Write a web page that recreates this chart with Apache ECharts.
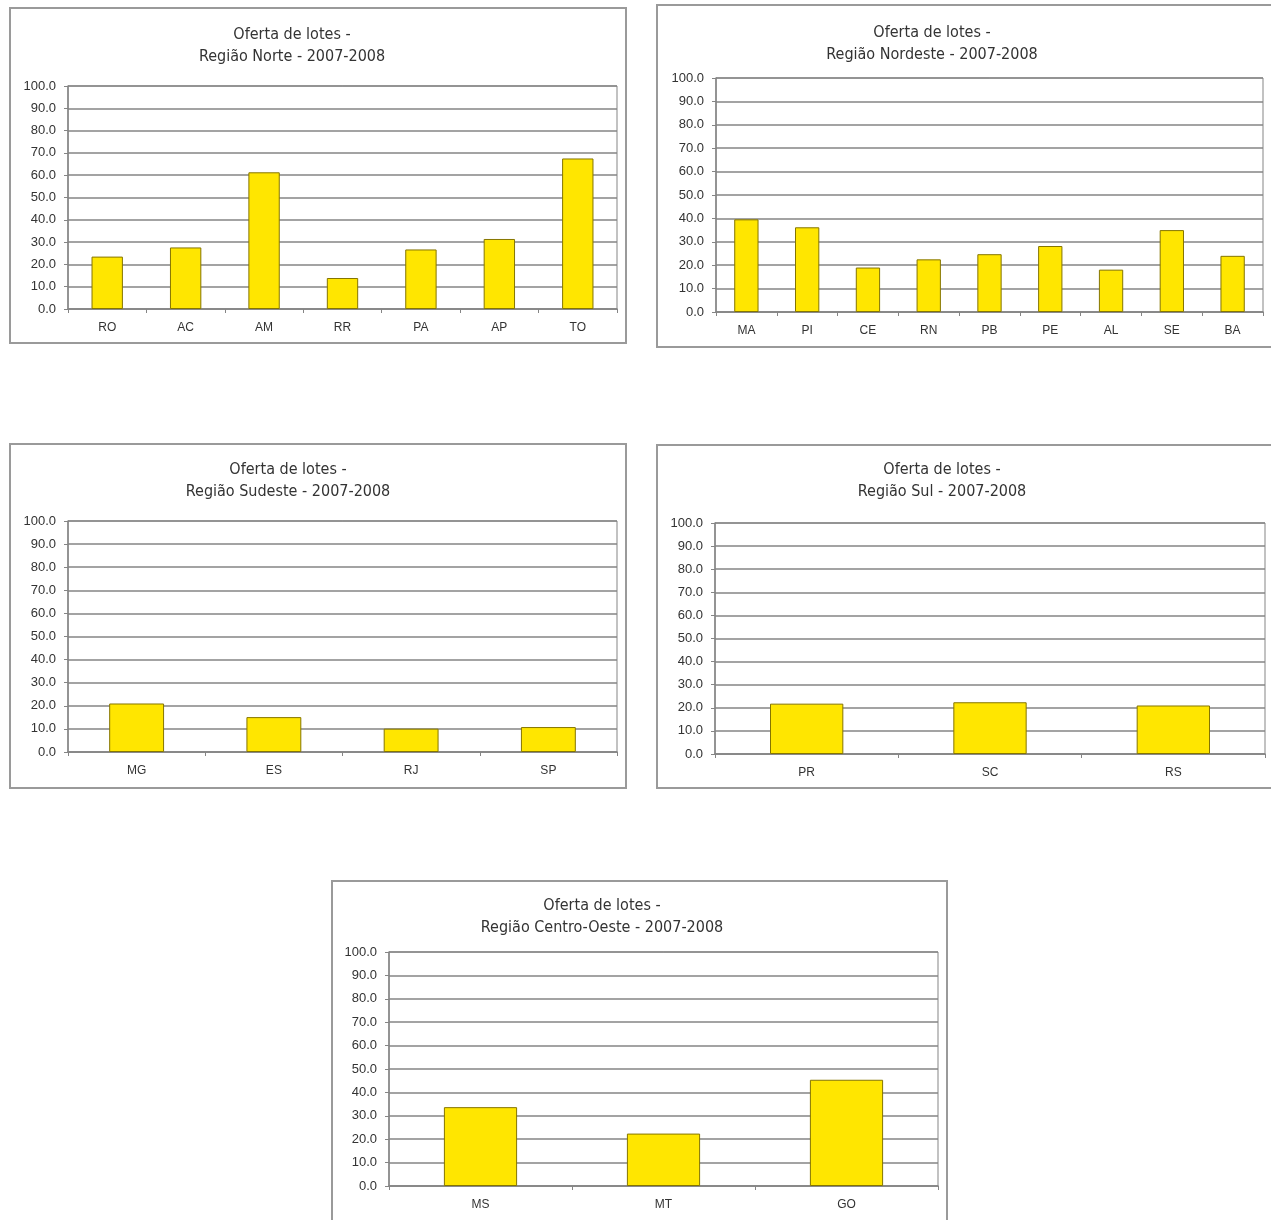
<!DOCTYPE html>
<html>
<head>
<meta charset="utf-8">
<script src="https://cdn.jsdelivr.net/npm/echarts@6/dist/echarts.min.js"></script>
<style>
  html, body { margin: 0; padding: 0; background: #fff; }
  #chart { width: 1271px; height: 1220px; }
</style>
</head>
<body>
<div id="chart"></div>
<script>
// Oferta de lotes por UF, 2007-2008 (%)
const yTicks = [0, 10, 20, 30, 40, 50, 60, 70, 80, 90, 100];

const norteUF = ['RO', 'AC', 'AM', 'RR', 'PA', 'AP', 'TO'];
const norteVal = [23.5, 27.6, 61.3, 13.9, 26.7, 31.4, 67.5];

const nordesteUF = ['MA', 'PI', 'CE', 'RN', 'PB', 'PE', 'AL', 'SE', 'BA'];
const nordesteVal = [39.6, 36.2, 19.0, 22.5, 24.7, 28.2, 18.1, 35.0, 24.0];

const sudesteUF = ['MG', 'ES', 'RJ', 'SP'];
const sudesteVal = [21.0, 15.1, 10.1, 10.8];

const sulUF = ['PR', 'SC', 'RS'];
const sulVal = [21.8, 22.4, 21.0];

const centroOesteUF = ['MS', 'MT', 'GO'];
const centroOesteVal = [33.7, 22.4, 45.4];

const titles = [
  'Oferta de lotes -\nRegião Norte - 2007-2008',
  'Oferta de lotes -\nRegião Nordeste - 2007-2008',
  'Oferta de lotes -\nRegião Sudeste - 2007-2008',
  'Oferta de lotes -\nRegião Sul - 2007-2008',
  'Oferta de lotes -\nRegião Centro-Oeste - 2007-2008'
];

// Panel frames, title anchors and plot rectangles (px)
const panels = [
  { cats: norteUF, vals: norteVal, box: [10, 8, 616, 335], tx: 287, ty: 19, grid: [68, 86, 549, 223] },
  { cats: nordesteUF, vals: nordesteVal, box: [657, 5, 618, 342], tx: 927, ty: 17, grid: [716, 78, 547, 234] },
  { cats: sudesteUF, vals: sudesteVal, box: [10, 444, 616, 344], tx: 283, ty: 454, grid: [68, 521, 549, 231] },
  { cats: sulUF, vals: sulVal, box: [657, 445, 618, 343], tx: 937, ty: 454, grid: [715, 523, 550, 231] },
  { cats: centroOesteUF, vals: centroOesteVal, box: [332, 881, 615, 350], tx: 597, ty: 890, grid: [389, 952, 549, 234] }
];

const lineGray = '#858585';
const labelFamily = 'Liberation Sans, Arial, sans-serif';

const option = {
  backgroundColor: '#fff',
  animation: false,
  title: [],
  grid: [],
  xAxis: [],
  yAxis: [],
  series: [],
  graphic: []
};

panels.forEach((p, i) => {
  option.graphic.push({
    type: 'rect',
    shape: { x: p.box[0], y: p.box[1], width: p.box[2], height: p.box[3] },
    style: { fill: 'none', stroke: '#9a9a9a', lineWidth: 2 },
    silent: true,
    z: -1
  });
  option.title.push({
    text: titles[i],
    left: p.tx,
    top: p.ty,
    textAlign: 'center',
    textStyle: {
      fontFamily: 'Liberation Sans Narrow, DejaVu Sans Condensed, sans-serif',
      fontSize: 16,
      fontWeight: 'normal',
      color: '#333',
      lineHeight: 22
    }
  });
  option.grid.push({
    left: p.grid[0], top: p.grid[1], width: p.grid[2], height: p.grid[3],
    show: true, borderColor: lineGray, borderWidth: 1, backgroundColor: 'transparent'
  });
  option.xAxis.push({
    type: 'category',
    gridIndex: i,
    data: p.cats,
    axisLine: { lineStyle: { color: lineGray, width: 1.5 } },
    axisTick: { show: true, alignWithLabel: false, length: 4, lineStyle: { color: lineGray } },
    axisLabel: { margin: 13, fontFamily: labelFamily, fontSize: 12, color: '#333' },
    splitLine: { show: false }
  });
  option.yAxis.push({
    type: 'value',
    gridIndex: i,
    min: yTicks[0],
    max: yTicks[yTicks.length - 1],
    interval: yTicks[1] - yTicks[0],
    axisLine: { show: true, lineStyle: { color: lineGray, width: 1.5 } },
    axisTick: { show: true, length: 4, lineStyle: { color: lineGray } },
    axisLabel: {
      margin: 12, fontFamily: labelFamily, fontSize: 13, color: '#333',
      formatter: v => v.toFixed(1)
    },
    splitLine: { show: true, lineStyle: { color: lineGray, width: 1.5 } }
  });
  option.series.push({
    type: 'bar',
    xAxisIndex: i,
    yAxisIndex: i,
    data: p.vals,
    barCategoryGap: '60%',
    itemStyle: { color: '#ffe600', borderColor: '#857500', borderWidth: 1 },
    z: 3
  });
});

const chart = echarts.init(document.getElementById('chart'), null, { renderer: 'canvas' });
chart.setOption(option);
</script>
</body>
</html>
